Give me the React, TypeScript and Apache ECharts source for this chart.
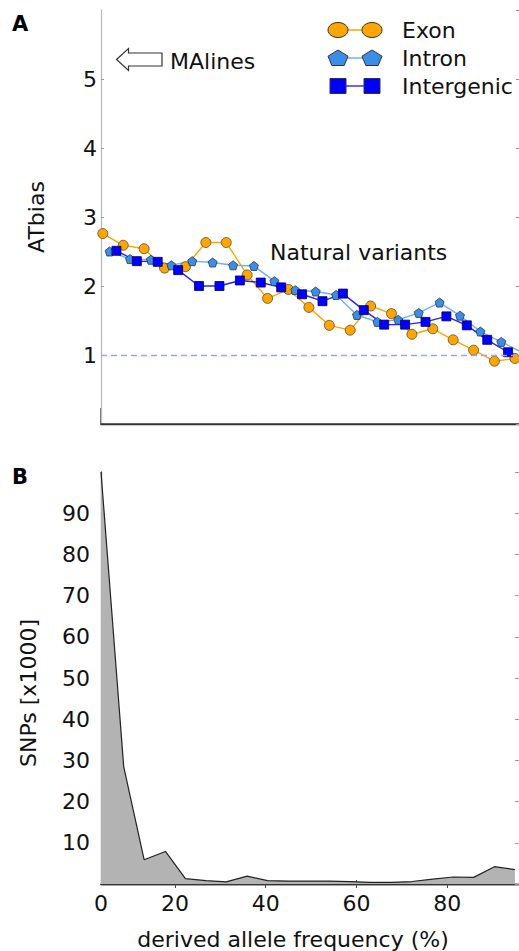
import React, { useEffect, useRef } from "react";
import * as echarts from "echarts";

// ---- data ----
const X_MIN = 3.7;
const X_MAX = 95.8;

const exonX = [4.1, 8.6, 13.2, 17.7, 22.3, 26.8, 31.3, 35.9, 40.4, 45.0, 49.5, 54.0, 58.6, 63.1, 67.7, 72.2, 76.8, 81.3, 85.8, 90.4, 94.9];
const exonY = [2.76, 2.59, 2.54, 2.26, 2.28, 2.63, 2.63, 2.16, 1.82, 1.95, 1.69, 1.43, 1.36, 1.71, 1.6, 1.3, 1.38, 1.22, 1.07, 0.91, 0.95];

const intronX = [5.6, 10.1, 14.7, 19.2, 23.8, 28.3, 32.8, 37.4, 41.9, 46.5, 51.0, 55.5, 60.1, 64.6, 69.2, 73.7, 78.3, 82.8, 87.3, 91.9, 96.4];
const intronY = [2.5, 2.39, 2.38, 2.3, 2.36, 2.34, 2.3, 2.29, 2.07, 1.94, 1.92, 1.87, 1.58, 1.48, 1.51, 1.61, 1.76, 1.57, 1.34, 1.19, 1.04];

const interX = [7.1, 11.6, 16.2, 20.7, 25.3, 29.8, 34.3, 38.9, 43.4, 48.0, 52.5, 57.0, 61.6, 66.1, 70.7, 75.2, 79.8, 84.3, 88.8, 93.4, 97.9];
const interY = [2.51, 2.36, 2.35, 2.23, 2.0, 2.0, 2.08, 2.05, 1.98, 1.88, 1.78, 1.89, 1.65, 1.44, 1.44, 1.48, 1.56, 1.43, 1.22, 1.04, 0.93];

const sfsX = [3.7, 8.7, 13.2, 17.9, 22.3, 26.8, 31.3, 35.9, 40.4, 45.0, 49.5, 54.0, 58.6, 63.1, 67.7, 72.2, 76.8, 81.3, 85.8, 90.4, 94.9];
const sfsY = [100, 28.5, 5.9, 7.9, 1.3, 0.8, 0.5, 1.9, 0.8, 0.7, 0.7, 0.7, 0.6, 0.4, 0.4, 0.6, 1.2, 1.7, 1.6, 4.2, 3.5];

const refLevel = 1;
const xTickValues = [20, 40, 60, 80];
const xLabelValues = [X_MIN, 20, 40, 60, 80];
const xLabelTexts = ["0", "20", "40", "60", "80"];

const FONT = "DejaVu Sans";
const pentagon = "path://M0,-1 L0.951,-0.309 L0.588,0.809 L-0.588,0.809 L-0.951,-0.309 Z";

const zip = (xs: number[], ys: number[]) => xs.map((x, i) => [x, ys[i]]);

export default function App() {
  const ref = useRef<HTMLDivElement>(null);
  useEffect(() => {
    if (!ref.current) return;
    const chart = echarts.init(ref.current, null, { renderer: "svg" });
    const labelStyle = { fontFamily: FONT, fontSize: 22, color: "#111" };
    const legendRow = (y: number, kind: string, fill: string, line: string, stroke: string, label: string) => {
      const marker = (cx: number) => {
        if (kind === "circle")
          return { type: "ellipse", shape: { cx, cy: y, rx: 10, ry: 7.5 }, style: { fill, stroke, lineWidth: 1 } };
        if (kind === "pent")
          return {
            type: "polygon",
            shape: { points: [[cx, y - 8], [cx + 10, y - 1.8], [cx + 6.2, y + 7.5], [cx - 6.2, y + 7.5], [cx - 10, y - 1.8]] },
            style: { fill, stroke, lineWidth: 1 },
          };
        return { type: "rect", shape: { x: cx - 8, y: y - 7.5, width: 16, height: 15 }, style: { fill, stroke, lineWidth: 1 } };
      };
      return [
        { type: "line", shape: { x1: 338, y1: y, x2: 372, y2: y }, style: { stroke: line, lineWidth: 1.5 } },
        marker(338),
        marker(372),
        { type: "text", x: 402, y, style: { text: label, font: `22px "${FONT}"`, fill: "#111", textVerticalAlign: "middle" } },
      ];
    };
    chart.setOption({
      animation: false,
      backgroundColor: "#fff",
      textStyle: { fontFamily: FONT },
      grid: [
        { left: 101, top: 10, width: 419, height: 414 },
        { left: 101, top: 472, width: 419, height: 413 },
      ],
      xAxis: [
        {
          gridIndex: 0, type: "value", min: X_MIN, max: X_MAX, position: "bottom",
          axisLine: { lineStyle: { color: "#444", width: 1.5 } },
          axisTick: { show: false }, axisLabel: { show: false }, splitLine: { show: false },
        },
        {
          gridIndex: 0, type: "value", min: X_MIN, max: X_MAX, position: "top",
          axisLine: { lineStyle: { color: "#333", width: 1.3 } },
          axisTick: { show: false }, axisLabel: { show: false }, splitLine: { show: false },
        },
        {
          gridIndex: 1, type: "value", min: X_MIN, max: X_MAX, position: "bottom",
          axisLine: { lineStyle: { color: "#333", width: 1.3 } },
          axisTick: { inside: true, length: 4, customValues: xTickValues, lineStyle: { color: "#444" } },
          axisLabel: {
            ...labelStyle, margin: 8, customValues: xLabelValues,
            formatter: (v: number) => {
              const i = xLabelValues.findIndex((t) => Math.abs(t - v) < 1e-6);
              return i >= 0 ? xLabelTexts[i] : "";
            },
          },
          splitLine: { show: false },
          name: "derived allele frequency (%)", nameLocation: "middle", nameGap: 44,
          nameTextStyle: { ...labelStyle, padding: [0, 34, 0, 0] },
        },
        {
          gridIndex: 1, type: "value", min: X_MIN, max: X_MAX, position: "top",
          axisLine: { lineStyle: { color: "#333", width: 1.3 } },
          axisTick: { inside: true, length: 4, customValues: xTickValues, lineStyle: { color: "#444" } },
          axisLabel: { show: false }, splitLine: { show: false },
        },
      ],
      yAxis: [
        {
          gridIndex: 0, type: "value", min: 0, max: 6, interval: 1, position: "left",
          axisLine: { show: true, lineStyle: { color: "#bbb", width: 1.3 } },
          axisTick: { show: true, inside: true, length: 3, lineStyle: { color: "#999" } },
          axisLabel: { ...labelStyle, margin: 4, showMinLabel: false, showMaxLabel: false },
          splitLine: { show: false },
          name: "ATbias", nameLocation: "middle", nameGap: 54, nameTextStyle: { ...labelStyle },
        },
        {
          gridIndex: 0, type: "value", min: 0, max: 6, interval: 1, position: "right",
          axisLine: { show: false },
          axisTick: { show: true, inside: true, length: 3, lineStyle: { color: "#999" } },
          axisLabel: { show: false }, splitLine: { show: false },
        },
        {
          gridIndex: 1, type: "value", min: 0, max: 100, interval: 10, position: "left",
          axisLine: { show: true, lineStyle: { color: "#666", width: 1.3 } },
          axisTick: { show: true, inside: true, length: 4, lineStyle: { color: "#888" } },
          axisLabel: { ...labelStyle, margin: 11, showMinLabel: false, showMaxLabel: false },
          splitLine: { show: false },
          name: "SNPs [x1000]", nameLocation: "middle", nameGap: 62,
          nameTextStyle: { ...labelStyle, padding: [0, 30, 0, 0] },
        },
        {
          gridIndex: 1, type: "value", min: 0, max: 100, interval: 10, position: "right",
          axisLine: { show: false },
          axisTick: { show: true, inside: true, length: 4, lineStyle: { color: "#999" } },
          axisLabel: { show: false }, splitLine: { show: false },
        },
      ],
      series: [
        {
          name: "Exon", type: "line", xAxisIndex: 0, yAxisIndex: 0,
          data: zip(exonX, exonY), symbol: "circle", symbolSize: 10,
          lineStyle: { color: "#ffa500", width: 1.4 },
          itemStyle: { color: "#ffa500", borderColor: "#5a4a30", borderWidth: 0.8 },
          markLine: {
            silent: true, symbol: ["none", "none"], label: { show: false },
            lineStyle: { type: [6, 4], color: "#a0a0ff", width: 1.3 },
            data: [{ yAxis: refLevel }],
          },
        },
        {
          name: "Intron", type: "line", xAxisIndex: 0, yAxisIndex: 0,
          data: zip(intronX, intronY), symbol: pentagon, symbolSize: 9,
          lineStyle: { color: "#6ab2ff", width: 1.4 },
          itemStyle: { color: "#3a8ee6", borderColor: "#334", borderWidth: 0.8 },
        },
        {
          name: "Intergenic", type: "line", xAxisIndex: 0, yAxisIndex: 0,
          data: zip(interX, interY), symbol: "rect", symbolSize: 9,
          lineStyle: { color: "#2222ff", width: 1.4 },
          itemStyle: { color: "#0000ff", borderColor: "#000050", borderWidth: 0.8 },
        },
        {
          name: "SNPs", type: "line", xAxisIndex: 2, yAxisIndex: 2,
          data: zip(sfsX, sfsY), symbol: "none",
          lineStyle: { color: "#222", width: 1.2 },
          areaStyle: { color: "#b3b3b3", opacity: 1 },
        },
      ],
      graphic: [
        { type: "text", x: 12, y: 24, style: { text: "A", font: `bold 21px "${FONT}"`, fill: "#000", textVerticalAlign: "middle" } },
        { type: "text", x: 12, y: 477, style: { text: "B", font: `bold 21px "${FONT}"`, fill: "#000", textVerticalAlign: "middle" } },
        { type: "line", shape: { x1: 101, y1: 408, x2: 101, y2: 424 }, style: { stroke: "#444", lineWidth: 1.5 } },
        {
          type: "polygon",
          shape: { points: [[116.5, 59.5], [128.5, 48.5], [128.5, 53], [162, 53], [162, 66], [128.5, 66], [128.5, 70.5]] },
          style: { fill: "#fff", stroke: "#333", lineWidth: 1.2 },
        },
        { type: "text", x: 170, y: 61, style: { text: "MAlines", font: `22px "${FONT}"`, fill: "#111", textVerticalAlign: "middle" } },
        { type: "text", x: 270, y: 252, style: { text: "Natural variants", font: `22px "${FONT}"`, fill: "#111", textVerticalAlign: "middle" } },
        ...legendRow(30, "circle", "#ffa500", "#ffa500", "#333", "Exon"),
        ...legendRow(58, "pent", "#3a8ee6", "#6ab2ff", "#333", "Intron"),
        ...legendRow(86, "rect", "#0000ff", "#3333ff", "#333", "Intergenic"),
      ],
    });
    return () => chart.dispose();
  }, []);
  return <div ref={ref} style={{ position: "absolute", left: 0, top: 0, width: 519, height: 951, background: "#fff" }} />;
}
